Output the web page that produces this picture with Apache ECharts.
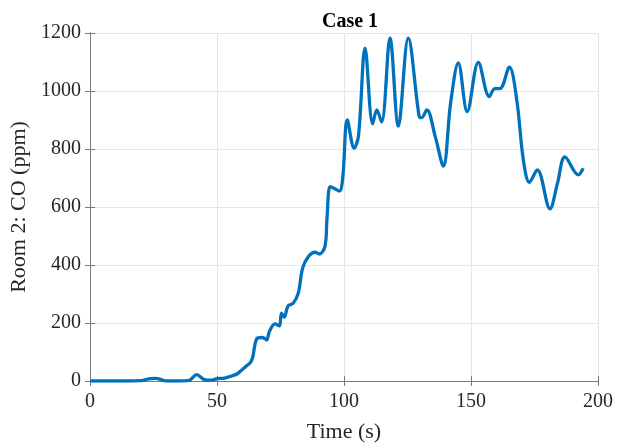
<!DOCTYPE html>
<html>
<head>
<meta charset="utf-8">
<script src="https://cdn.jsdelivr.net/npm/echarts@6/dist/echarts.min.js"></script>
<style>html,body{margin:0;padding:0;background:#fff;}#c{width:619px;height:444px;}</style>
</head>
<body>
<div id="c"></div>
<script>
const titleText = 'Case 1';
const xName = 'Time (s)';
const yName = 'Room 2: CO (ppm)';
const xTicks = [0, 50, 100, 150, 200];
const yTicks = [0, 200, 400, 600, 800, 1000, 1200];
const time = [0,5,10,15,20,22,24,26,28,30,35,39,42,45,48,50,53,56,58,60,62,63,64,65.6,67.6,69,69.6,70.6,72.8,74.5,75.4,76.4,78,80,82,83.7,86,88.6,90.3,92.5,93.3,94.5,96,98.2,99.5,101.3,104,105.7,108.3,111.3,112.9,114.8,118.1,121.4,125.3,129.6,130.6,132.6,136,139.1,142,145,148.5,152.9,157.2,159.4,161.4,165.1,168,170.6,173,176.1,181.1,184,187,192.2,194.2];
const co = [0,0,0,0,1,5,8,9,5,0,0,2,22,5,3,8,10,18,25,40,55,62,80,145,150,146,141,170,197,190,234,220,259,268,303,389,429,444,438,464,560,670,665,655,700,900,803,845,1148,887,935,893,1182,879,1182,912,908,935,840,741,960,1097,929,1099,981,1008,1008,1082,970,763,685,728,594,680,773,711,734];

const data = time.map((t, i) => [t, co[i]]);
const font = 'Liberation Serif, Times New Roman, serif';
const chart = echarts.init(document.getElementById('c'));
const axisCol = '#7a7a7a';
const labelCol = '#262626';
chart.setOption({
  animation: false,
  title: {
    text: titleText, left: 345, top: 7, textAlign: 'center',
    textStyle: { fontFamily: font, fontSize: 20, fontWeight: 'bold', color: '#000' }
  },
  grid: { left: 90, right: 21, top: 33, bottom: 63, outerBoundsMode: 'none', containLabel: false },
  xAxis: [{
    type: 'value', min: 0, max: 200, interval: 50,
    name: xName, nameLocation: 'middle', nameGap: 40,
    nameTextStyle: { fontFamily: font, fontSize: 22, color: labelCol },
    axisLine: { show: true, lineStyle: { color: axisCol, width: 1 } },
    axisTick: { show: true, inside: true, length: 5, lineStyle: { color: axisCol } },
    axisLabel: { fontFamily: font, fontSize: 20, color: labelCol, margin: 11,
      formatter: v => xTicks.includes(v) ? String(v) : '' },
    splitLine: { show: true, lineStyle: { color: '#e6e6e6', width: 1 } }
  }, {
    type: 'value', min: 0, max: 200, interval: 50, position: 'top',
    axisLine: { show: true, lineStyle: { color: axisCol, width: 1 } },
    axisTick: { show: true, inside: true, length: 5, lineStyle: { color: axisCol } },
    axisLabel: { show: false }, splitLine: { show: false }
  }],
  yAxis: [{
    type: 'value', min: 0, max: 1200, interval: 200,
    name: yName, nameLocation: 'middle', nameGap: 60, nameRotate: 90,
    nameTextStyle: { fontFamily: font, fontSize: 22, color: labelCol },
    axisLine: { show: true, lineStyle: { color: axisCol, width: 1 } },
    axisTick: { show: true, inside: true, length: 5, lineStyle: { color: axisCol } },
    axisLabel: { fontFamily: font, fontSize: 20, color: labelCol, margin: 9,
      formatter: v => yTicks.includes(v) ? String(v) : '' },
    splitLine: { show: true, lineStyle: { color: '#e6e6e6', width: 1 } }
  }, {
    type: 'value', min: 0, max: 1200, interval: 200, position: 'right',
    axisLine: { show: true, lineStyle: { color: axisCol, width: 1 } },
    axisTick: { show: true, inside: true, length: 5, lineStyle: { color: axisCol } },
    axisLabel: { show: false }, splitLine: { show: false }
  }],
  series: [{
    type: 'line', data: data, smooth: 0.35, showSymbol: false,
    lineStyle: { color: '#0072BD', width: 3.3 }, itemStyle: { color: '#0072BD' }
  }]
});
</script>
</body>
</html>
